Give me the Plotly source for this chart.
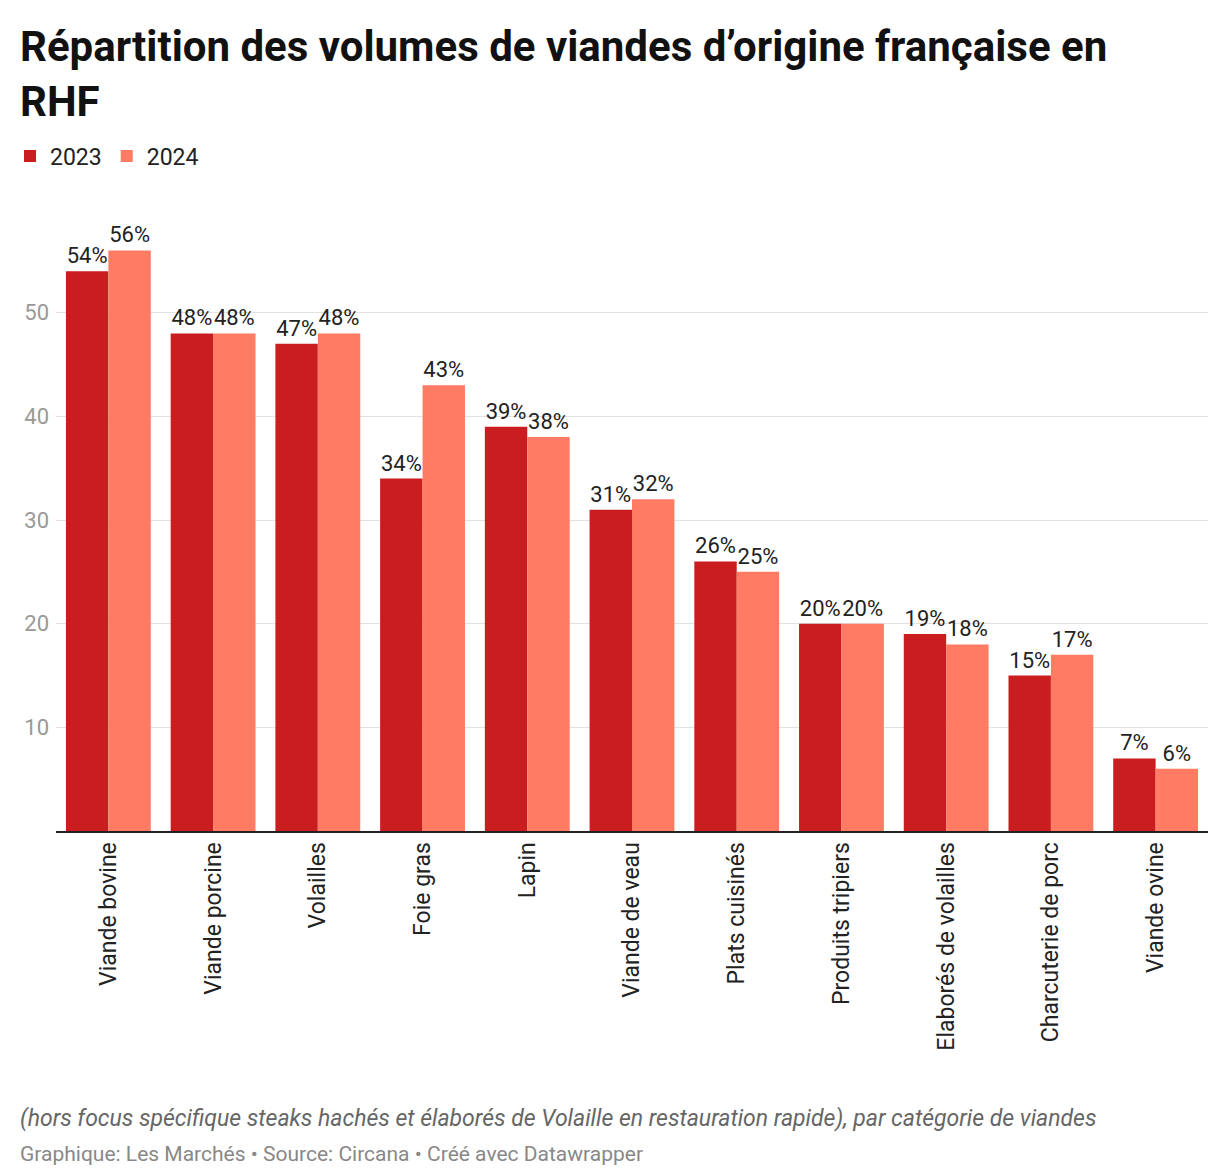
import plotly.graph_objects as go

categories = ["Viande bovine", "Viande porcine", "Volailles", "Foie gras", "Lapin",
              "Viande de veau", "Plats cuisinés", "Produits tripiers",
              "Elaborés de volailles", "Charcuterie de porc", "Viande ovine"]
vals_2023 = [54, 48, 47, 34, 39, 31, 26, 20, 19, 15, 7]
vals_2024 = [56, 48, 48, 43, 38, 32, 25, 20, 18, 17, 6]
ytick_vals = [10, 20, 30, 40, 50]

FONT = "Roboto"
PLOT_H = 622
PLOT_W = 1152

fig = go.Figure()
for name, vals, color in [("2023", vals_2023, "#c91d20"), ("2024", vals_2024, "#ff7b63")]:
    fig.add_trace(go.Bar(
        x=categories, y=vals, name=name, marker_color=color, marker_line_width=0,
        texttemplate="%{y}%", textposition="outside", cliponaxis=False,
        textfont=dict(family=FONT, size=22, color="#222"),
    ))

def py(pix):
    # pixel row in page -> paper coordinate
    return (823 - pix) / PLOT_H

def px(pix):
    return (pix - 48) / PLOT_W

fig.update_layout(
    width=1220, height=1172,
    margin=dict(l=48, r=20, t=201, b=349, autoexpand=False),
    plot_bgcolor="white", paper_bgcolor="white",
    barmode="group", bargap=0.19, bargroupgap=0,
    font=dict(family=FONT, color="#222"),
    legend=dict(orientation="h", x=px(2), xanchor="left", y=py(148), yanchor="middle",
                font=dict(size=23, family=FONT), traceorder="normal"),
)
fig.update_yaxes(range=[0, 60], tickvals=ytick_vals, showgrid=True, gridcolor="#e2e2e2",
                 tickfont=dict(size=22, color="#999"), zeroline=False, ticks="",
                 ticklabelstandoff=6)
fig.update_xaxes(tickangle=-90, tickfont=dict(size=23, color="#222"), showline=True,
                 linecolor="#222", linewidth=2, ticks="")

fig.add_annotation(
    text="<b>Répartition des volumes de viandes d’origine française en<br>RHF</b>",
    xref="paper", yref="paper", x=px(10), y=py(12), xanchor="left", yanchor="top",
    align="left", showarrow=False, font=dict(size=42, color="#111", family=FONT))
fig.add_annotation(
    text="<i>(hors focus spécifique steaks hachés et élaborés de Volaille en restauration rapide), par catégorie de viandes</i>",
    xref="paper", yref="paper", x=px(10), y=py(1110), xanchor="left", yanchor="middle",
    showarrow=False, font=dict(size=23, color="#666", family=FONT))
fig.add_annotation(
    text="Graphique: Les Marchés • Source: Circana • Créé avec Datawrapper",
    xref="paper", yref="paper", x=px(10), y=py(1146), xanchor="left", yanchor="middle",
    showarrow=False, font=dict(size=21, color="#888", family=FONT))

fig.write_html("out.html")
